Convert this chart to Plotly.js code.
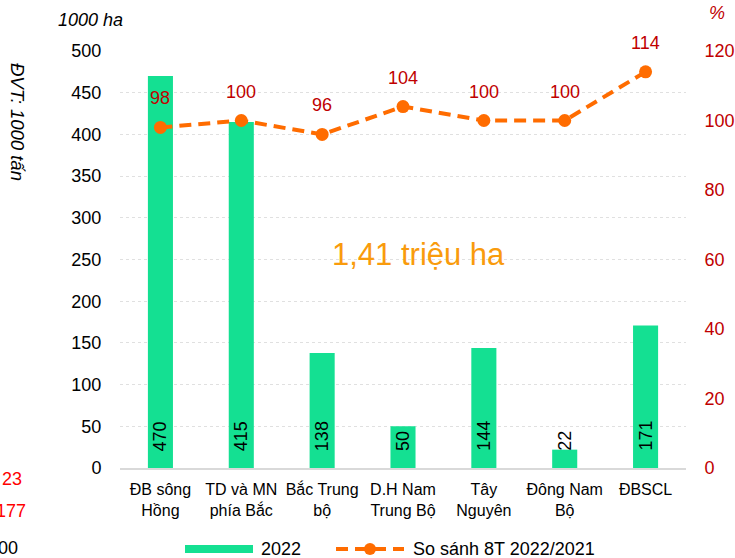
<!DOCTYPE html>
<html><head><meta charset="utf-8">
<script src="https://cdn.plot.ly/plotly-3.0.1.min.js"></script>
<style>html,body{margin:0;padding:0;background:#fff}#chart{width:735px;height:558px}</style>
</head><body><div id="chart"></div>
<script>
const categories = ["ĐB sông<br>Hồng", "TD và MN<br>phía Bắc", "Bắc Trung<br>bộ", "D.H Nam<br>Trung Bộ", "Tây<br>Nguyên", "Đông Nam<br>Bộ", "ĐBSCL"];
const area2022 = [470, 415, 138, 50, 144, 22, 171];
const compare = [98, 100, 96, 104, 100, 100, 114];
const leftTicks = [0, 50, 100, 150, 200, 250, 300, 350, 400, 450, 500];
const rightTicks = [0, 20, 40, 60, 80, 100, 120];
const legendNames = ["2022", "So sánh 8T 2022/2021"];

const FONT = "Liberation Sans, Arial, sans-serif";
const GREEN = "#14e092";
const ORANGE = "#ff6c00";
const RED = "#c00000";
const W = 566, H = 417, L = 120, T = 51;
const px = x => (x - L) / W;
const py = y => (T + H - y) / H;

const traces = [
  {type: "bar", x: categories, y: area2022, name: legendNames[0], marker: {color: GREEN}, width: 0.31, hoverinfo: "none", showlegend: false},
  {type: "scatter", mode: "lines+markers", x: categories, y: compare, yaxis: "y2", name: legendNames[1],
   line: {color: ORANGE, width: 4, dash: "12px,7px"}, marker: {color: ORANGE, size: 13}, hoverinfo: "none", showlegend: false}
];

const annotations = [];
categories.forEach((c, i) => {
  annotations.push({x: c, y: 0, xref: "x", yref: "y", text: String(area2022[i]), showarrow: false,
    textangle: -90, yanchor: "bottom", xanchor: "center", yshift: 15,
    font: {family: FONT, size: 18, color: "#000"}});
  annotations.push({x: c, y: compare[i], xref: "x", yref: "y2", text: String(compare[i]), showarrow: false,
    yanchor: "bottom", yshift: 17, font: {family: FONT, size: 18, color: RED}});
});
annotations.push(
  {xref: "paper", yref: "paper", x: px(418), y: py(255), text: "1,41 triệu ha", showarrow: false,
   xanchor: "center", yanchor: "middle", font: {family: FONT, size: 31, color: "#f99b0c"}},
  {xref: "paper", yref: "paper", x: px(90), y: py(20), text: "<i>1000 ha</i>", showarrow: false,
   xanchor: "center", yanchor: "middle", font: {family: FONT, size: 18, color: "#000"}},
  {xref: "paper", yref: "paper", x: px(18), y: py(122), text: "<i>ĐVT: 1000 tấn</i>", showarrow: false,
   textangle: 90, xanchor: "center", yanchor: "middle", font: {family: FONT, size: 18.5, color: "#000"}},
  {xref: "paper", yref: "paper", x: px(717), y: py(13), text: "<i>%</i>", showarrow: false,
   xanchor: "center", yanchor: "middle", font: {family: FONT, size: 18, color: RED}},
  {xref: "paper", yref: "paper", x: px(24), y: py(479), text: "23", showarrow: false,
   xanchor: "right", yanchor: "middle", font: {family: FONT, size: 18, color: "#ff0000"}},
  {xref: "paper", yref: "paper", x: px(28), y: py(511), text: "177", showarrow: false,
   xanchor: "right", yanchor: "middle", font: {family: FONT, size: 18, color: "#ff0000"}},
  {xref: "paper", yref: "paper", x: px(20), y: py(548), text: "00", showarrow: false,
   xanchor: "right", yanchor: "middle", font: {family: FONT, size: 18, color: "#000"}},
  {xref: "paper", yref: "paper", x: px(259), y: py(549), text: legendNames[0], showarrow: false,
   xanchor: "left", yanchor: "middle", font: {family: FONT, size: 18, color: "#000"}},
  {xref: "paper", yref: "paper", x: px(411), y: py(549), text: legendNames[1], showarrow: false,
   xanchor: "left", yanchor: "middle", font: {family: FONT, size: 18, color: "#000"}}
);

const shapes = [
  {type: "rect", xref: "paper", yref: "paper", x0: px(185), x1: px(253), y0: py(553), y1: py(545),
   fillcolor: GREEN, line: {width: 0}},
  {type: "line", xref: "paper", yref: "paper", x0: px(336), x1: px(404), y0: py(549), y1: py(549),
   line: {color: ORANGE, width: 4, dash: "12px,7px"}},
  {type: "circle", xref: "paper", yref: "paper", x0: px(364), x1: px(376), y0: py(555), y1: py(543),
   fillcolor: ORANGE, line: {width: 0}}
];

const layout = {
  width: 735, height: 558,
  margin: {l: 120, r: 49, t: 51, b: 90, autoexpand: false},
  paper_bgcolor: "#fff", plot_bgcolor: "#fff",
  font: {family: FONT, size: 16, color: "#000"},
  showlegend: false,
  xaxis: {tickfont: {family: FONT, size: 16, color: "#000"}, showline: true, linecolor: "#d9d9d9", linewidth: 2,
    ticks: "outside", ticklen: 6, tickcolor: "rgba(0,0,0,0)", showgrid: false, automargin: false},
  yaxis: {range: [0, 500], tickvals: leftTicks, ticktext: leftTicks.map(String), showgrid: true, gridcolor: "#e0e0e0",
    griddash: "dot", zeroline: false, ticks: "outside", ticklen: 14, tickcolor: "rgba(0,0,0,0)", automargin: false,
    tickfont: {family: FONT, size: 18, color: "#000"}},
  yaxis2: {range: [0, 120], tickvals: rightTicks, ticktext: rightTicks.map(String), overlaying: "y", side: "right",
    showgrid: false, zeroline: false, ticks: "outside", ticklen: 14, tickcolor: "rgba(0,0,0,0)", automargin: false,
    tickfont: {family: FONT, size: 18, color: RED}},
  annotations: annotations,
  shapes: shapes
};

Plotly.newPlot("chart", traces, layout, {displayModeBar: false, staticPlot: true});
</script></body></html>
